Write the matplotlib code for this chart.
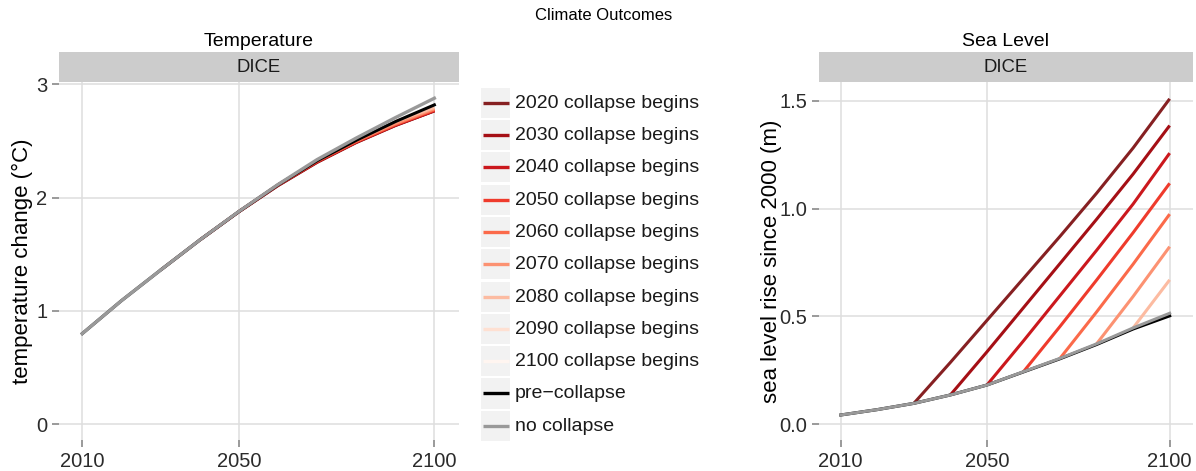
#!/usr/bin/env python3
# Climate outcomes under ice-sheet collapse scenarios (DICE runs)

import matplotlib
matplotlib.use("Agg")
import matplotlib.pyplot as plt
from matplotlib.patches import Rectangle

plt.rcParams['font.family'] = ['Liberation Sans', 'DejaVu Sans']

# ---------------------------------------------------------------------
# data: decadal values, 2010..2100
years = [2010, 2020, 2030, 2040, 2050, 2060, 2070, 2080, 2090, 2100]

temp_no_collapse = [0.80, 1.09, 1.36, 1.625, 1.877, 2.115, 2.335, 2.525, 2.705, 2.877]
temp_pre_collapse = [0.80, 1.09, 1.36, 1.625, 1.876, 2.112, 2.325, 2.505, 2.67, 2.818]

sea_no_collapse = [0.043, 0.068, 0.097, 0.136, 0.182, 0.244, 0.306, 0.373, 0.447, 0.515]
sea_pre_collapse = [0.043, 0.068, 0.097, 0.136, 0.182, 0.243, 0.304, 0.370, 0.442, 0.503]

collapse_years = [2020, 2030, 2040, 2050, 2060, 2070, 2080, 2090, 2100]

# each collapse run is drawn from the decade after collapse begins
temp_collapse = {
    2020: [1.36, 1.624, 1.874, 2.105, 2.31, 2.485, 2.635, 2.765],
    2030: [1.625, 1.875, 2.107, 2.313, 2.488, 2.637, 2.765],
    2040: [1.876, 2.11, 2.316, 2.49, 2.64, 2.768],
    2050: [2.112, 2.318, 2.493, 2.643, 2.772],
    2060: [2.325, 2.497, 2.648, 2.778],
    2070: [2.505, 2.655, 2.785],
    2080: [2.67, 2.795],
    2090: [2.818],
    2100: [],
}
sea_collapse = {
    2020: [0.097, 0.287, 0.482, 0.677, 0.872, 1.072, 1.282, 1.51],
    2030: [0.136, 0.336, 0.541, 0.746, 0.951, 1.161, 1.386],
    2040: [0.182, 0.387, 0.597, 0.807, 1.022, 1.258],
    2050: [0.244, 0.454, 0.669, 0.889, 1.118],
    2060: [0.306, 0.521, 0.743, 0.975],
    2070: [0.373, 0.593, 0.824],
    2080: [0.447, 0.67],
    2090: [0.515],
    2100: [],
}

collapse_colors = ['#862022', '#A50F15', '#CB181D', '#EF3B2C', '#FB6A4A',
                   '#FC9272', '#FCBBA1', '#FEE0D2', '#FFF5F0']
labels = ["%d collapse begins" % y for y in collapse_years] + ["pre\u2212collapse", "no collapse"]
colors = collapse_colors + ['#000000', '#999999']

# ---------------------------------------------------------------------
W, H = 1196, 471
fig = plt.figure(figsize=(W / 100, H / 100), dpi=100)


def px_axes(x0, y0, x1, y1):
    # axes from pixel box (top-left origin)
    return fig.add_axes([x0 / W, 1 - y1 / H, (x1 - x0) / W, (y1 - y0) / H])


def style_panel(ax, title, ylabel, xlim, ylim, yticks, ytlabels, x0, x1, ylab_x):
    ax.set_xlim(*xlim)
    ax.set_ylim(*ylim)
    ax.set_xticks([2010, 2050, 2100])
    ax.set_yticks(yticks)
    ax.set_yticklabels(ytlabels)
    ax.grid(True, color='#DEDEDE', lw=1.1)
    ax.set_axisbelow(True)
    for s in ax.spines.values():
        s.set_visible(False)
    ax.tick_params(colors='#7F7F7F', length=5, width=1.1, labelsize=14.5,
                   labelcolor='#2B2B2B', pad=3.5)
    ax.set_ylabel(ylabel, fontsize=16, color='#000000')
    ax.yaxis.set_label_coords((ylab_x - x0) / (x1 - x0), 0.5)
    # strip
    fig.add_artist(Rectangle((x0 / W, 1 - 81.7 / H), (x1 - x0) / W, 29.4 / H,
                             transform=fig.transFigure, facecolor='#CCCCCC',
                             edgecolor='none'))
    fig.text((x0 + x1) / 2 / W, 1 - 67 / H, "DICE", ha='center', va='center',
             fontsize=13.3, color='#1A1A1A')
    fig.text((x0 + x1) / 2 / W, 1 - 42 / H, title, ha='center', va='center',
             fontsize=14, color='#000000')


xlim = (2004.05, 2106.3)

# temperature panel
ax1 = px_axes(59, 82, 459, 440)
for cy, col in zip(collapse_years, collapse_colors):
    vals = temp_collapse[cy]
    ax1.plot(years[len(years) - len(vals):], vals, color=col, lw=2.2,
             solid_capstyle='butt')
ax1.plot(years, temp_pre_collapse, color='#000000', lw=2.2)
ax1.plot(years, temp_no_collapse, color='#999999', lw=2.4)
style_panel(ax1, "Temperature", "temperature change (\u00b0C)", xlim,
            (-0.139, 3.02), [0, 1, 2, 3], ['0', '1', '2', '3'], 59, 459, 33)

# sea level panel
ax2 = px_axes(819, 82, 1192.7, 440)
for cy, col in zip(collapse_years, collapse_colors):
    vals = sea_collapse[cy]
    ax2.plot(years[len(years) - len(vals):], vals, color=col, lw=2.2,
             solid_capstyle='butt')
ax2.plot(years, sea_pre_collapse, color='#000000', lw=2.2)
ax2.plot(years, sea_no_collapse, color='#999999', lw=2.2)
style_panel(ax2, "Sea Level", "sea level rise since 2000 (m)", xlim,
            (-0.073, 1.588), [0, 0.5, 1.0, 1.5], ['0.0', '0.5', '1.0', '1.5'],
            819, 1192.7, 782)

# legend: grey key boxes with a line segment each
lax = fig.add_axes([0, 0, 1, 1], zorder=-1)
lax.set_xlim(0, W)
lax.set_ylim(H, 0)
lax.axis('off')
row_top = 87.7
row_h = 32.3
for i, (lab, col) in enumerate(zip(labels, colors)):
    top = row_top + i * row_h
    lax.add_patch(Rectangle((481.3, top), 29, row_h - 2.2,
                            facecolor='#F2F2F2', edgecolor='none'))
    cy_ = top + (row_h - 2.2) / 2
    lax.plot([482.5, 509], [cy_, cy_], color=col, lw=2.4, solid_capstyle='butt')
    lax.text(515, cy_ + 0.5, lab, ha='left', va='center', fontsize=14,
             color='#1A1A1A')

fig.text(0.505, 1 - 15 / H, "Climate Outcomes", ha='center', va='center',
         fontsize=12, color='#000000')

fig.savefig("out.png", dpi=100)
plt.close(fig)
